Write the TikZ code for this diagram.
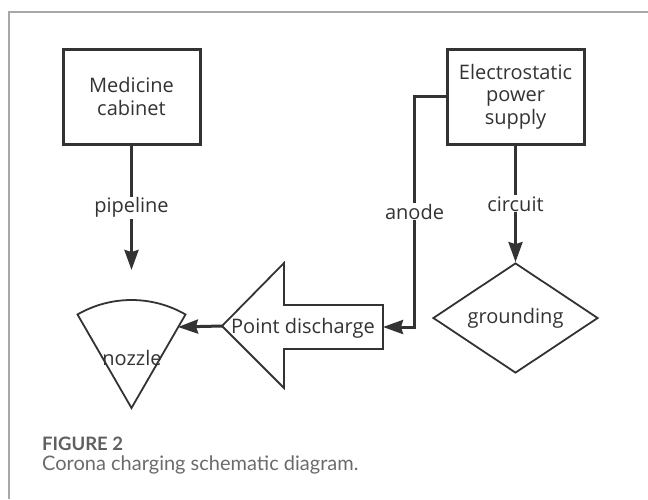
\documentclass[tikz,border=0pt]{standalone}
\usepackage{fontspec}
\setmainfont{Open Sans}
\newfontfamily\capfont{Lato}
\usetikzlibrary{positioning,shapes.geometric,arrows.meta}
\definecolor{ink}{HTML}{333333}
\definecolor{rule}{HTML}{A8A8A8}
\definecolor{capgray}{HTML}{6B6B6B}

\begin{document}
\begin{tikzpicture}[x=1pt, y=-1pt, font=\fontsize{20}{22.5}\selectfont, text=ink,
  arrow/.style={-{Stealth[length=20pt,width=14pt,inset=2pt]}, line width=3pt, draw=ink},
  block/.style={rectangle, draw=ink, line width=3pt, align=center, minimum width=137pt, minimum height=95pt},
  outline/.style={draw=ink, line width=1.8pt, fill=white},
  tag/.style={fill=white, inner sep=1pt},
  caption/.style={anchor=west, inner sep=0pt, text=capgray, font=\capfont}]

    \useasboundingbox (0,0) rectangle (648,499);
    \draw[rule, line width=1.2pt] (9,499) -- (9,12) -- (648,12);

    \node [block] (cabinet) at (131.5,96.5) {Medicine\\cabinet};
    \node [block] (power) at (515.5,96.5) {Electrostatic\\power\\supply};
    \node [diamond, aspect=1.5, inner sep=0pt, draw=ink, line width=1.8pt, minimum width=165pt, minimum height=110pt] (ground) at (515.5,318) {grounding};

    % point discharge arrow
    \coordinate (dtip) at (222,326);
    \coordinate (dtail) at (383,327);
    \draw[outline] (dtip) -- ++(62,-63) -- ++(0,42) -- ++(99,0) -- ++(0,44) -- ++(-99,0) -- ++(0,39) -- cycle;
    \node (discharge) at (303,328) {Point discharge};

    % nozzle sector
    \coordinate (apex) at (131.5,408);
    \draw[outline] (apex) -- ++(-60:108) arc[start angle=-60, end angle=-120, radius=108] -- cycle;
    \node (nozzle) at (132,358) {nozzle};
    \coordinate (nozin) at (178,327);
    \coordinate (pipeend) at (131.5,270);

    \draw[arrow] (cabinet) -- node[tag] {pipeline} (pipeend);
    \draw[arrow] (power) -- node[tag] {circuit} (ground);
    \draw[arrow] (power.west) -- ++(-31,0) |- node[tag, pos=0.25] {anode} (dtail);
    \draw[arrow] (dtip) -- (nozin);

    \node [caption, text=capgray!90!black, font=\capfont\bfseries\fontsize{18.5}{20}\selectfont] (fignum) at (42,444) {FIGURE 2};
    \node [caption, below=5pt of fignum.south west, anchor=north west, font=\capfont\fontsize{20}{24}\selectfont] (figtext) {Corona charging schematic diagram.};

\end{tikzpicture}
\end{document}
